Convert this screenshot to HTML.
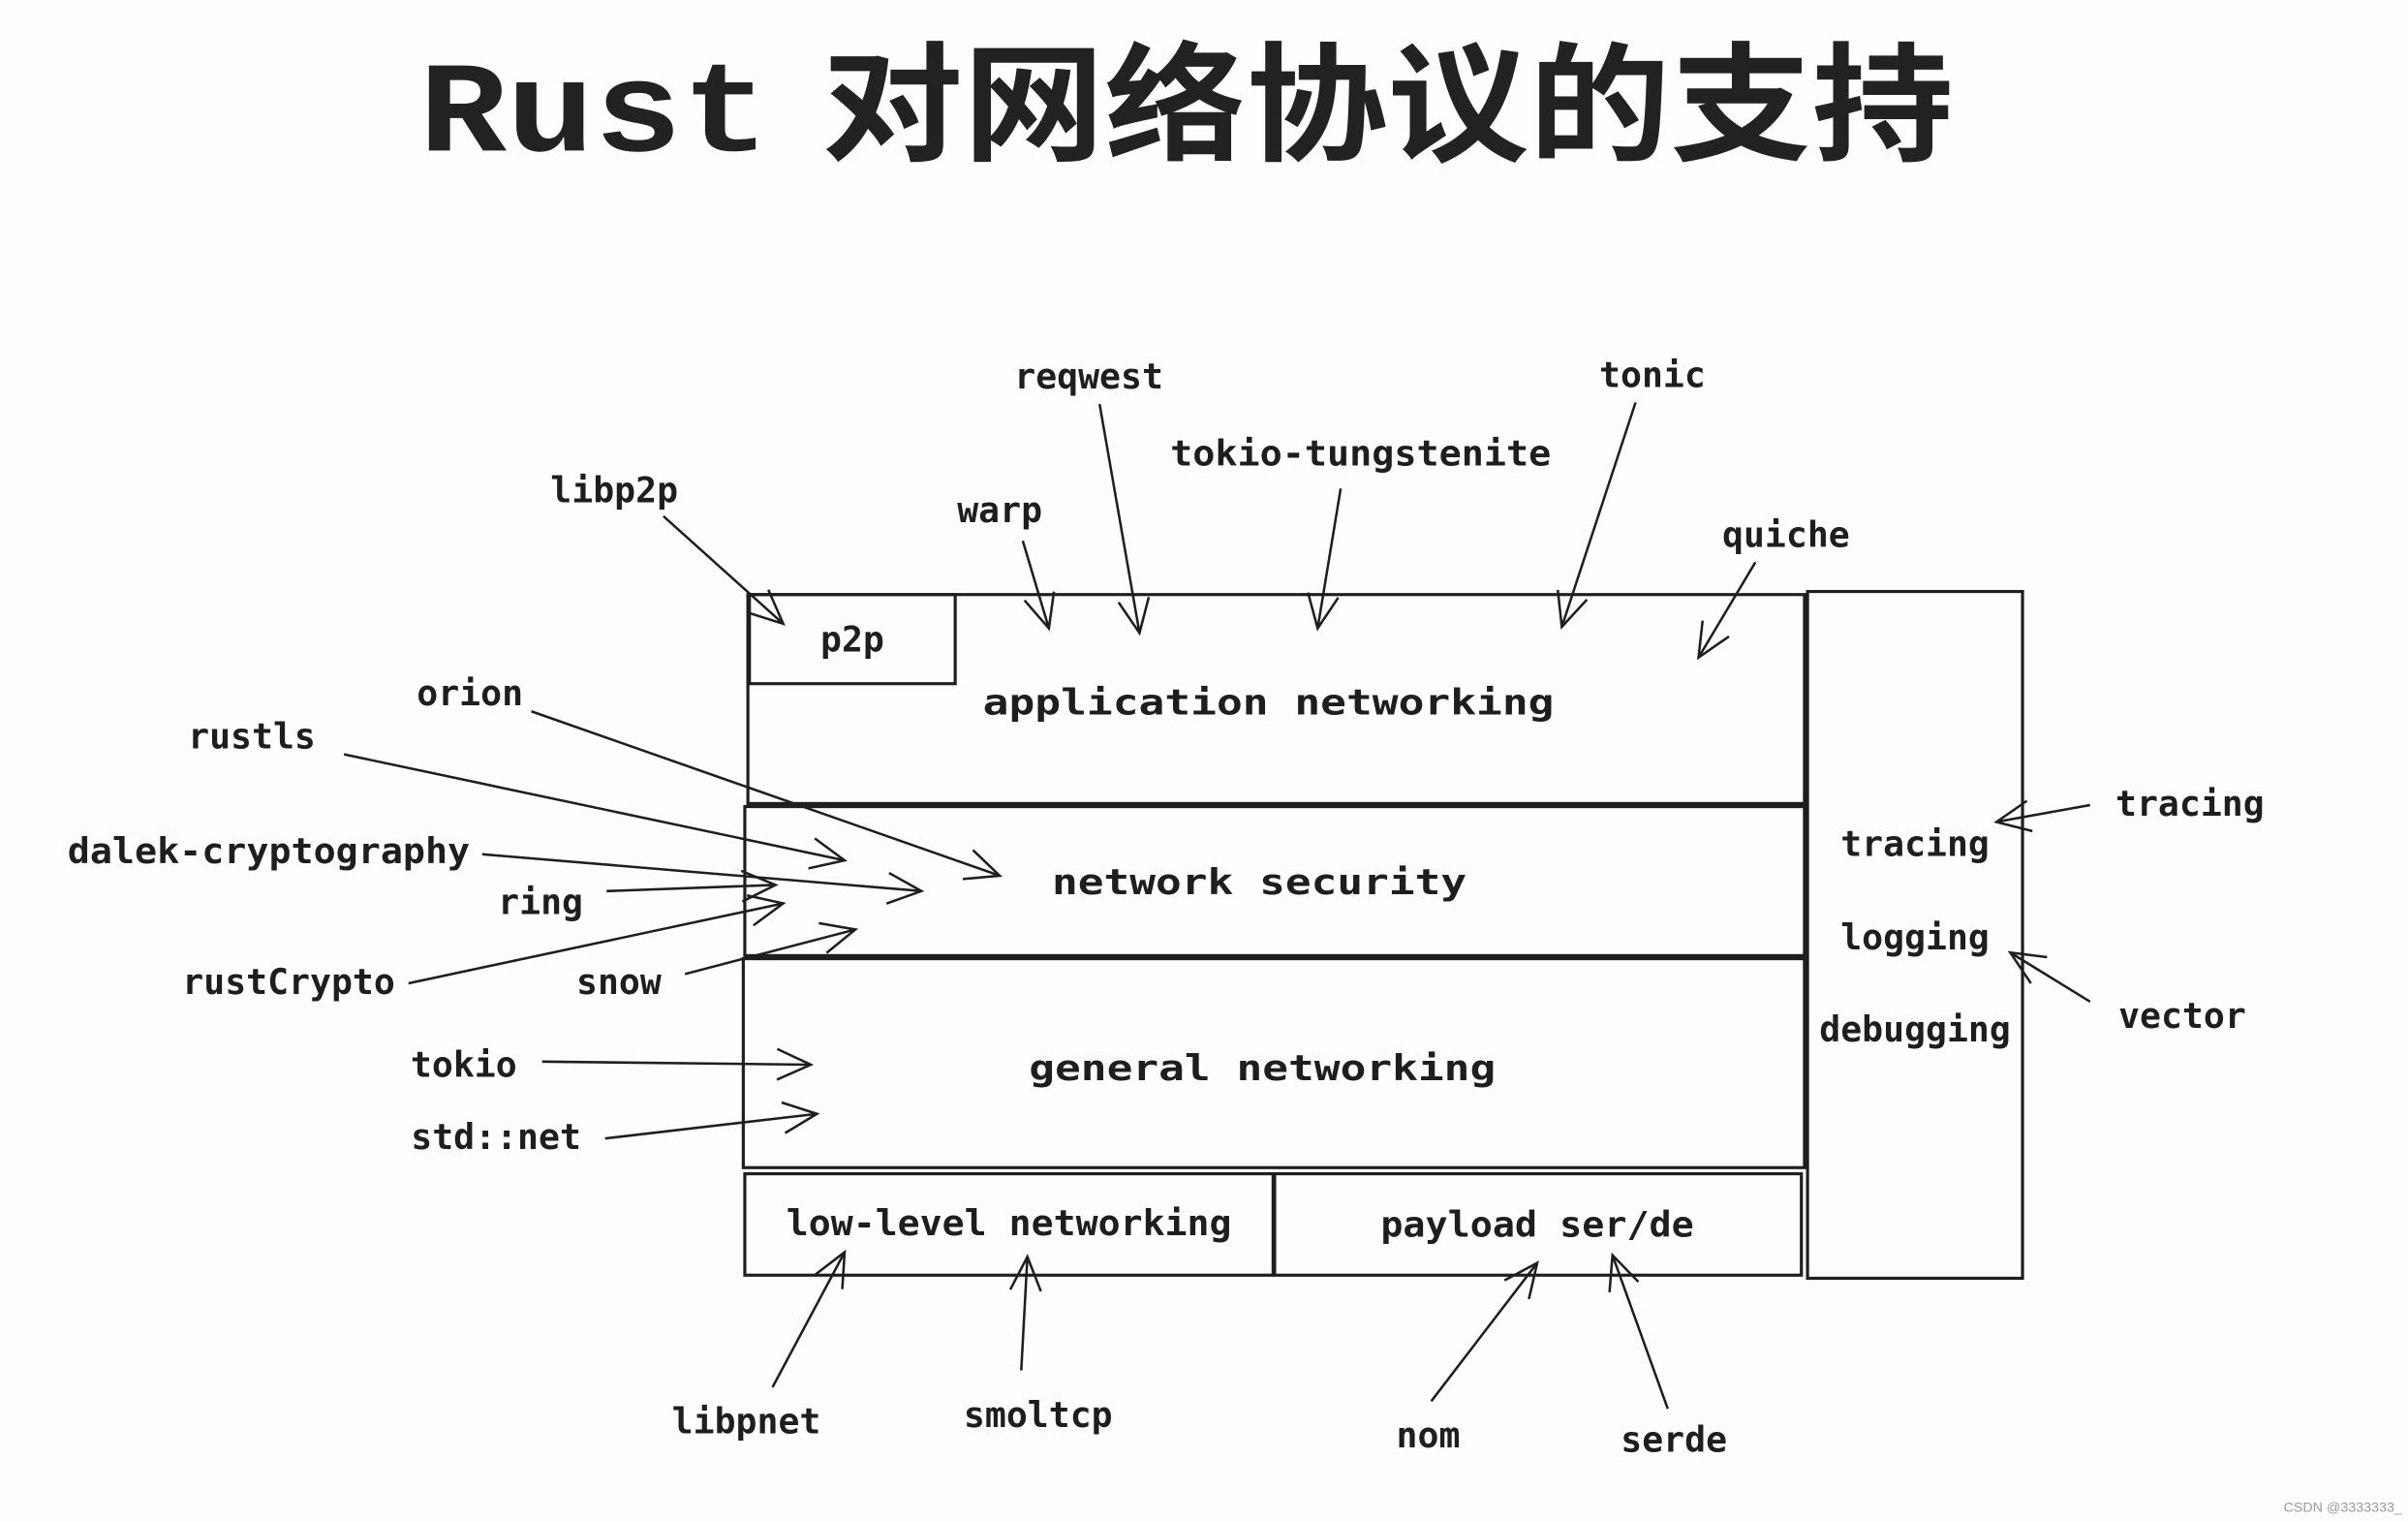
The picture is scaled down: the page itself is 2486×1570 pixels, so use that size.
<!DOCTYPE html>
<html><head><meta charset="utf-8"><style>
html,body{margin:0;padding:0;background:#fdfdfd;}
svg{display:block}
text{font-family:"DejaVu Sans Mono","Liberation Mono",monospace;fill:#1e1e1e;font-size:23px;font-weight:bold}
.t{font-family:"Liberation Mono","Noto Sans CJK SC",monospace;font-size:84px;font-weight:bold;fill:#222}
.b{fill:none;stroke:#1e1e1e;stroke-width:2}
.a{stroke:#1e1e1e;stroke-width:1.6;fill:none}
</style></head><body>
<svg width="2486" height="1570" viewBox="0 0 1568 990" preserveAspectRatio="none">
<defs><marker id="m" markerUnits="userSpaceOnUse" markerWidth="30" markerHeight="30" refX="24" refY="15" orient="auto"><polyline points="2,5 24,15 2,25" fill="none" stroke="#1e1e1e" stroke-width="1.6"/></marker></defs>
<rect width="1568" height="990" fill="#fdfdfd"/>
<text class="t" x="273" y="98" textLength="228" lengthAdjust="spacingAndGlyphs">Rust</text>
<text class="t" x="535" y="98" textLength="737" lengthAdjust="spacingAndGlyphs">对网络协议的支持</text>
<!-- boxes -->
<rect class="b" x="487" y="387" width="688" height="136"/>
<rect class="b" x="488" y="387" width="134" height="58"/>
<rect class="b" x="485" y="525" width="690" height="97"/>
<rect class="b" x="484" y="624" width="691" height="136"/>
<rect class="b" x="485" y="764" width="344" height="66"/>
<rect class="b" x="830" y="764" width="343" height="66"/>
<rect class="b" x="1177" y="385" width="140" height="447"/>
<!-- labels -->
<g text-anchor="middle">
<text x="709" y="253">reqwest</text>
<text x="1076" y="252">tonic</text>
<text x="886" y="303" textLength="248" lengthAdjust="spacingAndGlyphs">tokio-tungstenite</text>
<text x="400" y="327">libp2p</text>
<text x="651" y="340">warp</text>
<text x="1163" y="356">quiche</text>
<text x="555" y="424">p2p</text>
<text x="826" y="465" font-size="27" textLength="372" lengthAdjust="spacingAndGlyphs">application networking</text>
<text x="306" y="459">orion</text>
<text x="164" y="487">rustls</text>
<text x="175" y="562" textLength="262" lengthAdjust="spacingAndGlyphs">dalek-cryptography</text>
<text x="352" y="595">ring</text>
<text x="188" y="647">rustCrypto</text>
<text x="403" y="647">snow</text>
<text x="820" y="582" font-size="27" textLength="270" lengthAdjust="spacingAndGlyphs">network security</text>
<text x="302" y="701">tokio</text>
<text x="323" y="748">std::net</text>
<text x="822" y="703" font-size="27" textLength="304" lengthAdjust="spacingAndGlyphs">general networking</text>
<text x="1247" y="557">tracing</text>
<text x="1426" y="531">tracing</text>
<text x="1247" y="618">logging</text>
<text x="1421" y="669">vector</text>
<text x="1247" y="678">debugging</text>
<text x="657" y="804" textLength="290" lengthAdjust="spacingAndGlyphs">low-level networking</text>
<text x="1001" y="805" textLength="204" lengthAdjust="spacingAndGlyphs">payload ser/de</text>
<text x="486" y="933">libpnet</text>
<text x="676" y="929">smoltcp</text>
<text x="930" y="942">nom</text>
<text x="1090" y="945">serde</text>
</g>
<!-- arrows -->
<g class="a" marker-end="url(#m)">
<line x1="432" y1="336" x2="510" y2="406"/>
<line x1="666" y1="352" x2="683" y2="409"/>
<line x1="716" y1="263" x2="742" y2="412"/>
<line x1="873" y1="318" x2="858" y2="409"/>
<line x1="1065" y1="262" x2="1017" y2="408"/>
<line x1="1143" y1="366" x2="1106" y2="428"/>
<line x1="346" y1="463" x2="651" y2="570"/>
<line x1="224" y1="491" x2="550" y2="560"/>
<line x1="314" y1="556" x2="600" y2="580"/>
<line x1="395" y1="580" x2="505" y2="576"/>
<line x1="266" y1="640" x2="510" y2="588"/>
<line x1="446" y1="634" x2="557" y2="605"/>
<line x1="353" y1="691" x2="528" y2="693"/>
<line x1="394" y1="741" x2="532" y2="725"/>
<line x1="1361" y1="524" x2="1300" y2="535"/>
<line x1="1361" y1="652" x2="1309" y2="620"/>
<line x1="503" y1="903" x2="550" y2="815"/>
<line x1="665" y1="892" x2="669" y2="818"/>
<line x1="932" y1="912" x2="1001" y2="822"/>
<line x1="1086" y1="917" x2="1050" y2="817"/>
</g>
<text x="1487" y="984" style="font-family:'Liberation Sans',sans-serif;font-size:9px;font-weight:normal;fill:#999">CSDN @3333333_</text>
</svg>
</body></html>
